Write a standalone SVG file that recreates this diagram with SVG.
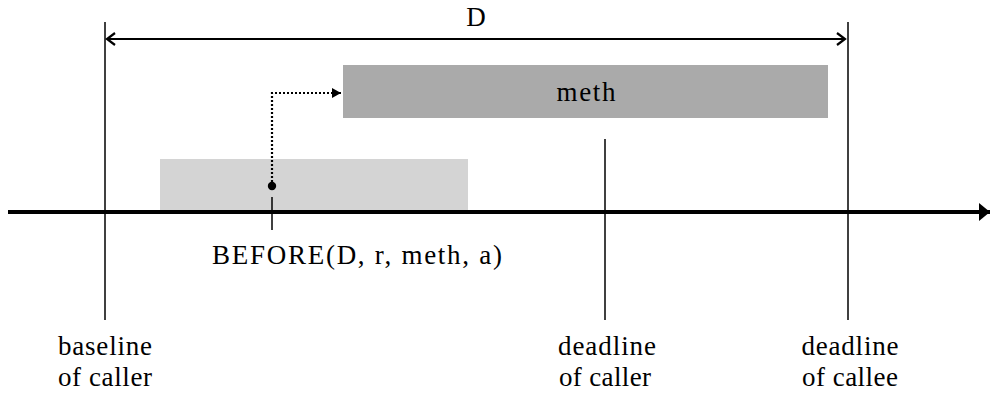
<svg xmlns="http://www.w3.org/2000/svg" width="999" height="396" viewBox="0 0 999 396">
<style>
text{font-family:"Liberation Serif","DejaVu Serif",serif;font-size:27px;fill:#000;text-anchor:middle}
.v{stroke:#000;stroke-width:1.5;fill:none}
</style>
<defs>
<marker id="open" markerWidth="12" markerHeight="14" refX="10" refY="7" orient="auto-start-reverse" markerUnits="userSpaceOnUse">
<path d="M2,1 L10,7 L2,13" fill="none" stroke="#000" stroke-width="2.2"/>
</marker>
<marker id="fill" markerWidth="12" markerHeight="18" refX="11" refY="9" orient="auto" markerUnits="userSpaceOnUse">
<path d="M0,0 L11,9 L0,18 Z" fill="#000"/>
</marker>
<marker id="small" markerWidth="10" markerHeight="12" refX="9" refY="6" orient="auto" markerUnits="userSpaceOnUse">
<path d="M0,1 L9,6 L0,11 Z" fill="#000"/>
</marker>
</defs>
<g id="caller-box"><rect x="160" y="159" width="308" height="51" fill="#d4d4d4"/></g>
<g id="meth"><rect x="343" y="65" width="485" height="53" fill="#aaaaaa"/><text x="586" y="101" textLength="59" lengthAdjust="spacing">meth</text></g>
<g id="connectors">
<line class="v" x1="105" y1="22" x2="105" y2="320"/>
<line class="v" x1="848" y1="22" x2="848" y2="320"/>
<line class="v" x1="605" y1="139" x2="605" y2="320"/>
<line x1="107" y1="39" x2="845" y2="39" stroke="#000" stroke-width="2.2" marker-start="url(#open)" marker-end="url(#open)"/>
<line x1="8" y1="212" x2="990" y2="212" stroke="#000" stroke-width="4" marker-end="url(#fill)"/>
<line class="v" x1="272" y1="197" x2="272" y2="230"/>
<path d="M272,186 V93 H341" fill="none" stroke="#000" stroke-width="2.2" stroke-dasharray="2,2" marker-end="url(#small)"/>
<circle cx="272" cy="186" r="4.2" fill="#000"/>
</g>
<g id="labels">
<text x="476" y="26">D</text>
<text x="357" y="264" textLength="290" lengthAdjust="spacing">BEFORE(D, r, meth, a)</text>
<text x="105" y="355" textLength="94" lengthAdjust="spacing">baseline</text>
<text x="105" y="386" textLength="94" lengthAdjust="spacing">of caller</text>
<text x="607" y="355" textLength="98" lengthAdjust="spacing">deadline</text>
<text x="605" y="386" textLength="92" lengthAdjust="spacing">of caller</text>
<text x="850" y="355" textLength="97" lengthAdjust="spacing">deadline</text>
<text x="850" y="386" textLength="96" lengthAdjust="spacing">of callee</text>
</g>
</svg>
